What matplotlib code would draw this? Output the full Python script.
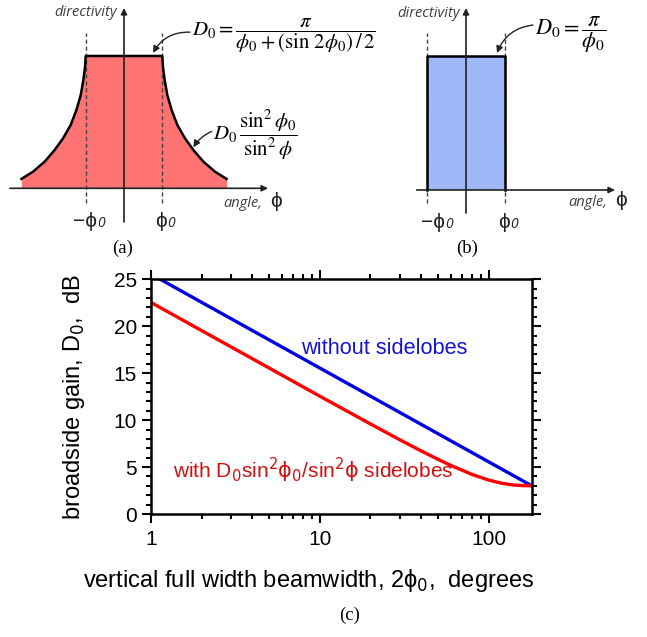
import matplotlib
matplotlib.use('Agg')
import matplotlib.pyplot as plt
import matplotlib.ticker as ticker
import numpy as np

plt.rcParams['font.family'] = ['Liberation Sans', 'DejaVu Sans']
plt.rcParams['mathtext.fontset'] = 'custom'
plt.rcParams['mathtext.rm'] = 'DejaVu Sans'
plt.rcParams['mathtext.it'] = 'DejaVu Sans:italic'
plt.rcParams['mathtext.default'] = 'rm'

# --- datos del grafico (c): ganancia vs ancho de haz ---
beamwidth_flat = [1.14, 2, 5, 10, 20, 50, 100, 180]
gain_flat = [25.0, 22.55, 18.57, 15.56, 12.55, 8.57, 5.56, 3.01]

beamwidth_lobes = [1, 2, 5, 10, 20, 30, 40, 50, 60, 80, 100, 120, 140, 160, 180]
gain_lobes = [22.55, 19.54, 15.57, 12.56, 9.59, 7.88, 6.71, 5.84, 5.16,
              4.21, 3.62, 3.27, 3.09, 3.02, 3.01]

x_ticks = [1, 10, 100]
y_ticks = [0, 5, 10, 15, 20, 25]

# --- esquema (a): lado derecho del patron (angulo en unidades de phi0, D en unidades de D0) ---
side_angle = [1.0, 1.017, 1.061, 1.130, 1.243, 1.391, 1.591, 1.809, 2.070, 2.374, 2.678]
side_directivity = [1.0, 0.919, 0.819, 0.705, 0.592, 0.479, 0.378, 0.290, 0.202, 0.126, 0.071]

# --- esquema (b): patron rectangular ---
rect_angle = [-1, -1, 1, 1]
rect_directivity = [0, 1, 1, 0]

fig = plt.figure(figsize=(6.47, 6.37), dpi=100)

axis_color = '#222222'
label_color = '#404040'
arrow_kw = dict(arrowstyle='-|>', color=axis_color, lw=1.2, mutation_scale=9, shrinkA=0, shrinkB=0)
small_font = dict(family='Open Sans', style='italic', fontsize=10.5, color=label_color)
sub_font = dict(family='Open Sans', style='italic', fontsize=10, color=axis_color)

# ================= panel (a) =================
ax_a = fig.add_axes([0, 1 - 235 / 637, 300 / 647, 235 / 637])
ax_a.set_xlim(-3.238, 4.595)
ax_a.set_ylim(-0.353, 1.423)
ax_a.axis('off')

xa = np.concatenate([-np.array(side_angle[::-1]), side_angle])
ya = np.concatenate([side_directivity[::-1], side_directivity])
ax_a.fill_between(xa, 0, ya, color='#ff7373', lw=0, zorder=1)
ax_a.plot(xa, ya, color='black', lw=1.8, zorder=3)

ax_a.annotate('', xy=(3.76, 0), xytext=(-2.98, 0), arrowprops=arrow_kw, zorder=4)
ax_a.annotate('', xy=(0, 1.363), xytext=(0, -0.255), arrowprops=arrow_kw, zorder=4)
ax_a.vlines([-1, 1], -0.111, 1.174, colors='#444444', linestyles=(0, (3, 2)), lw=1.0, zorder=2)

ax_a.text(-0.18, 1.325, 'directivity', ha='right', va='center', **small_font)
ax_a.text(2.585, -0.141, 'angle,', ha='left', va='baseline', **small_font)
ax_a.text(3.81, -0.141, 'ϕ', fontsize=15, color=axis_color, ha='left', va='baseline')
ax_a.text(-0.70, -0.29, '−ϕ', fontsize=15, color=axis_color, ha='right', va='baseline')
ax_a.text(-0.70, -0.29, '0', ha='left', va='baseline', **sub_font)
ax_a.text(1.115, -0.29, 'ϕ', fontsize=15, color=axis_color, ha='right', va='baseline')
ax_a.text(1.115, -0.29, '0', ha='left', va='baseline', **sub_font)

ax_a.text(1.775, 1.151,
          r'$\mathit{D}_0 = \dfrac{\mathit{\pi}}{\mathit{\phi}_0 + (\sin\,2\mathit{\phi}_0)\,/\,2}$',
          math_fontfamily='stix', fontsize=15, ha='left', va='center')
ax_a.annotate('', xy=(0.757, 1.023), xytext=(1.72, 1.18),
              arrowprops=dict(arrowstyle='-|>', color=axis_color, lw=1.0, mutation_scale=10,
                              connectionstyle='arc3,rad=0.3', shrinkA=0, shrinkB=0))
ax_a.text(2.324, 0.403,
          r'$\mathit{D}_0\,\dfrac{\sin^2\mathit{\phi}_0}{\sin^2\mathit{\phi}}$',
          math_fontfamily='stix', fontsize=15, ha='left', va='center')
ax_a.annotate('', xy=(1.81, 0.31), xytext=(2.29, 0.43),
              arrowprops=dict(arrowstyle='-|>', color=axis_color, lw=1.0, mutation_scale=10,
                              connectionstyle='arc3,rad=0.15', shrinkA=0, shrinkB=0))

# ================= panel (b) =================
ax_b = fig.add_axes([340 / 647, 1 - 235 / 637, 307 / 647, 235 / 637])
ax_b.set_xlim(-3.247, 4.665)
ax_b.set_ylim(-0.336, 1.418)
ax_b.axis('off')

ax_b.fill(rect_angle, rect_directivity, color='#9fb8f7', lw=0, zorder=1)
ax_b.plot(rect_angle, rect_directivity, color='black', lw=1.8, zorder=3)

ax_b.annotate('', xy=(3.84, 0), xytext=(-1.27, 0), arrowprops=arrow_kw, zorder=4)
ax_b.annotate('', xy=(0, 1.358), xytext=(0, -0.172), arrowprops=arrow_kw, zorder=4)
ax_b.vlines([-1, 1], -0.097, 1.172, colors='#444444', linestyles=(0, (3, 2)), lw=1.0, zorder=2)

ax_b.text(-0.155, 1.32, 'directivity', ha='right', va='center', **small_font)
ax_b.text(2.63, -0.12, 'angle,', ha='left', va='baseline', **small_font)
ax_b.text(3.84, -0.12, 'ϕ', fontsize=15, color=axis_color, ha='left', va='baseline')
ax_b.text(-0.541, -0.284, '−ϕ', fontsize=15, color=axis_color, ha='right', va='baseline')
ax_b.text(-0.541, -0.284, '0', ha='left', va='baseline', **sub_font)
ax_b.text(1.134, -0.284, 'ϕ', fontsize=15, color=axis_color, ha='right', va='baseline')
ax_b.text(1.134, -0.284, '0', ha='left', va='baseline', **sub_font)

ax_b.text(1.778, 1.16, r'$\mathit{D}_0 = \dfrac{\mathit{\pi}}{\mathit{\phi}_0}$',
          math_fontfamily='stix', fontsize=16, ha='left', va='center')
ax_b.annotate('', xy=(0.8, 1.022), xytext=(1.727, 1.231),
              arrowprops=dict(arrowstyle='-|>', color=axis_color, lw=1.0, mutation_scale=10,
                              connectionstyle='arc3,rad=0.3', shrinkA=0, shrinkB=0))

# ================= panel (c) =================
ax = fig.add_axes([150.7 / 647, 1 - 514 / 637, 381 / 647, 234.7 / 637])
ax.plot(beamwidth_flat, gain_flat, color='#0000e0', lw=2.4)
ax.plot(beamwidth_lobes, gain_lobes, color='#ff0000', lw=2.4)

ax.set_xscale('log')
ax.set_xlim(1, 180)
ax.set_ylim(0, 25)
ax.set_xticks(x_ticks)
ax.xaxis.set_major_formatter(ticker.FuncFormatter(lambda v, p: f'{v:g}'))
ax.xaxis.set_minor_formatter(ticker.NullFormatter())
ax.set_yticks(y_ticks)
ax.yaxis.set_minor_locator(ticker.MultipleLocator(1))

for s in ax.spines.values():
    s.set_linewidth(1.8)
ax.tick_params(which='both', direction='out', top=True, right=True, width=1.5)
ax.tick_params(which='major', length=6.5, labelsize=15, pad=3.5)
ax.tick_params(axis='x', which='major', pad=5)
ax.tick_params(which='minor', length=3.5)

ax.set_ylabel('broadside gain, D$_0$,  dB', fontsize=17)
ax.yaxis.set_label_coords(-0.167, 0.5)
ax.set_xlabel('vertical full width beamwidth, 2ϕ$_0$,  degrees', fontsize=17)
ax.xaxis.set_label_coords(0.415, -0.225)

ax.text(7.8, 17.04, 'without sidelobes', color='#1414d2', fontsize=15.7, va='baseline')
ax.text(1.36, 3.83, r'with D$_0$sin$^2\phi_0$/sin$^2\phi$ sidelobes', color='#d01010',
        fontsize=15, va='baseline')

# etiquetas de los paneles
fig.text(123 / 647, 1 - 248 / 637, '(a)', family='Liberation Serif', fontsize=13.5, ha='center', va='center')
fig.text(467 / 647, 1 - 248 / 637, '(b)', family='Liberation Serif', fontsize=13.5, ha='center', va='center')
fig.text(350 / 647, 1 - 615 / 637, '(c)', family='Liberation Serif', fontsize=13.5, ha='center', va='center')

fig.savefig('out.png', dpi=100)
